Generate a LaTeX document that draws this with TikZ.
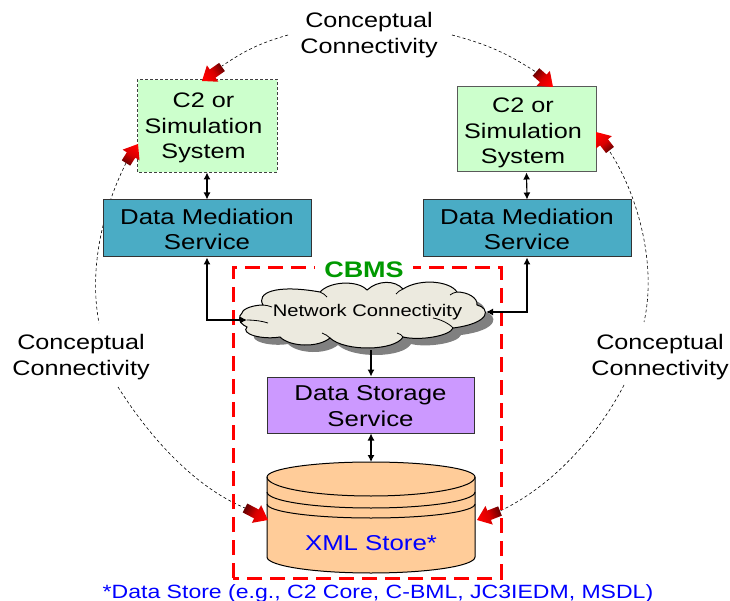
\documentclass[tikz,border=0pt]{standalone}
\usepackage{fontspec}
\setmainfont[FakeStretch=1.2]{Liberation Sans}
\usetikzlibrary{arrows.meta}
\definecolor{sysgreen}{HTML}{CCFFCC}
\definecolor{medblue}{HTML}{4AACC5}
\definecolor{storepurple}{HTML}{CC99FF}
\definecolor{xmlorange}{HTML}{FFCC99}
\definecolor{cloudfill}{HTML}{ECEADF}
\definecolor{cbmsgreen}{HTML}{009900}
\definecolor{deepred}{HTML}{660000}
\newcommand{\blockarrow}[4]{%
  \pgfmathsetmacro{\dxx}{#1-#3}\pgfmathsetmacro{\dyy}{#2-#4}%
  \pgfmathsetmacro{\lenn}{veclen(\dxx,\dyy)}%
  \pgfmathsetmacro{\ux}{\dxx/\lenn}\pgfmathsetmacro{\uy}{\dyy/\lenn}%
  \pgfmathsetmacro{\angg}{atan2(-\dyy,\dxx)-90}%
  \shade[top color=red,bottom color=deepred,middle color=red!85!black,shading angle=\angg]
    (#1,#2)
    -- ({#1-13*\ux-10*\uy},{#2-13*\uy+10*\ux})
    -- ({#1-13*\ux-5*\uy},{#2-13*\uy+5*\ux})
    -- ({#3-5*\uy},{#4+5*\ux})
    -- ({#3+5*\uy},{#4-5*\ux})
    -- ({#1-13*\ux+5*\uy},{#2-13*\uy-5*\ux})
    -- ({#1-13*\ux+10*\uy},{#2-13*\uy-10*\ux})
    -- cycle;}
\tikzset{
  lbl/.style={font=\fontsize{21}{25.5}\selectfont,align=center,inner sep=0pt},
  lblwide/.style={font=\fontsize{21.5}{25.5}\selectfont,align=center,inner sep=0pt},
  sysbox/.style={draw=black!65,line width=1pt,fill=sysgreen,inner sep=0pt},
  medbox/.style={draw=black!80,line width=1pt,fill=medblue},
  storebox/.style={draw=black!80,line width=1pt,fill=storepurple},
  concept/.style={lbl,inner sep=1pt},
  arc/.style={black,line width=0.6pt,dash pattern=on 3pt off 2.5pt},
  conn/.style={black,line width=1.1pt,-{Latex[length=7pt,width=7pt]}},
  biconn/.style={black,line width=1.1pt,{Latex[length=7pt,width=7pt]}-{Latex[length=7pt,width=7pt]}},
}
\begin{document}
\begin{tikzpicture}[x=1pt,y=-1pt]
\useasboundingbox (0,0) rectangle (730,601);
% conceptual arcs
\coordinate (tlA) at (288,35); \coordinate (tlB) at (222,66);
\coordinate (trA) at (452,35); \coordinate (trB) at (536,72);
\coordinate (ulA) at (126,163); \coordinate (ulB) at (99,323);
\coordinate (llA) at (118,387); \coordinate (llB) at (245,508);
\coordinate (urA) at (610,152); \coordinate (urB) at (644,322);
\coordinate (lrA) at (624,385); \coordinate (lrB) at (500,511);
\draw[arc] (tlA) to[bend right=9] (tlB);
\draw[arc] (trA) to[bend left=9] (trB);
\draw[arc] (ulA) .. controls (105,205) and (88,265) .. (ulB);
\draw[arc] (llA) .. controls (145,430) and (190,485) .. (llB);
\draw[arc] (urA) .. controls (638,195) and (657,265) .. (urB);
\draw[arc] (lrA) .. controls (600,432) and (555,485) .. (lrB);
% labels
\node[concept] (ctop) at (369,35) {Conceptual\\Connectivity};
\node[concept] (cleft) at (81,357) {Conceptual\\Connectivity};
\node[concept] (cright) at (660,357) {Conceptual\\Connectivity};
% CBMS frame
\draw[red,line width=3pt,dash pattern=on 15pt off 8pt] (233,578) -- (233,268) -- (501,268) -- (501,578) -- cycle;
\node[font=\fontsize{22.5}{25}\bfseries\selectfont,text=cbmsgreen,fill=white,inner xsep=9pt,inner ysep=0pt] (cbms) at (364,270) {CBMS};
% systems
\node[sysbox,draw=none,minimum width=139pt,minimum height=92pt] (sysL) at (207,126) {};
\draw[black!75,line width=1pt,dash pattern=on 3pt off 2pt] (sysL.north west) rectangle (sysL.south east);
\node[lbl] (sysLt) at (203.5,128) {C2 or\\Simulation\\System};
\node[sysbox,minimum width=139pt,minimum height=85pt] (sysR) at (526.5,129.5) {};
\node[lbl] (sysRt) at (523,133) {C2 or\\Simulation\\System};
% mediation
\node[medbox,minimum width=208pt,minimum height=57pt] (medL) at (207,228.5) {};
\node[lblwide] (medLt) at (207,229.5) {Data Mediation\\Service};
\node[medbox,minimum width=208pt,minimum height=57pt] (medR) at (527,228.5) {};
\node[lblwide] (medRt) at (527,229.5) {Data Mediation\\Service};
% cloud
\def\cloudpath{(242,313) .. controls (243,308) and (255,305) .. (263,305)
 .. controls (256,293) and (275,284) .. (320,292)
 .. controls (330,281) and (358,280) .. (367,290)
 .. controls (378,280) and (395,280) .. (403,289)
 .. controls (420,278) and (450,281) .. (457,292)
 .. controls (468,292) and (478,298) .. (477,305)
 .. controls (490,308) and (492,323) .. (453,328)
 .. controls (450,336) and (420,341) .. (403,337)
 .. controls (395,351) and (345,352) .. (330,338)
 .. controls (318,348) and (290,347) .. (280,337)
 .. controls (262,340) and (240,334) .. (247,327)
 .. controls (238,323) and (238,316) .. (242,313)}
\begin{scope}[shift={(8,7)}]
\fill[black!50] \cloudpath -- cycle;
\end{scope}
\draw[black,line width=1pt,fill=cloudfill] \cloudpath -- cycle;
\draw[black,line width=0.8pt] (263,305) .. controls (266,305) and (269,306) .. (272,307);
\draw[black,line width=0.8pt] (247,320) .. controls (254,320) and (262,321) .. (268,323);
\draw[black,line width=0.8pt] (320,292) .. controls (323,293) and (325,295) .. (327,297);
\draw[black,line width=0.8pt] (403,289) .. controls (400,290) and (398,292) .. (396,294);
\draw[black,line width=0.8pt] (457,292) .. controls (454,292) and (452,294) .. (450,295);
\draw[black,line width=0.8pt] (453,328) .. controls (450,324) and (440,319) .. (433,318);
\draw[black,line width=0.8pt] (330,338) .. controls (328,336) and (325,334) .. (322,333);
\draw[black,line width=0.8pt] (403,337) .. controls (402,335) and (400,334) .. (397,333);
\node[font=\fontsize{16.8}{20}\selectfont,inner sep=0pt] (cloud) at (367.5,312.5) {Network Connectivity};
\coordinate (cloudW) at (247,320); \coordinate (cloudE) at (486,312);
\coordinate (cloudS) at (371,350);
% storage
\node[storebox,minimum width=207pt,minimum height=56pt] (store) at (370.5,405) {};
\node[lblwide] (storet) at (370.5,406) {Data Storage\\Service};
% cylinder
\draw[black,line width=1pt,fill=xmlorange] (267,477) -- (267,557) arc[start angle=180,end angle=0,x radius=104,y radius=16] -- (475,477) arc[start angle=0,end angle=-180,x radius=104,y radius=15] -- cycle;
\draw[black,line width=1pt] (267,477) arc[start angle=180,end angle=0,x radius=104,y radius=19];
\draw[black,line width=1pt] (267,492) arc[start angle=180,end angle=0,x radius=104,y radius=16];
\draw[black,line width=1pt] (267,504) arc[start angle=180,end angle=0,x radius=104,y radius=14];
\node[lblwide,text=blue] (xml) at (371,543) {XML Store*};
\coordinate (cylN) at (371,462);
\node[font=\fontsize{19.2}{22}\selectfont,text=blue,inner sep=0pt] (foot) at (378,593.5) {*Data Store (e.g., C2 Core, C-BML, JC3IEDM, MSDL)};
% connectors
\draw[biconn] (sysL.south) -- (medL.north);
\draw[biconn] (sysR.south) -- (medR.north);
\draw[biconn] (medL.south) |- (cloudW);
\draw[biconn] (medR.south) |- (cloudE);
\draw[conn] (cloudS) -- (store.north -| cloudS);
\draw[biconn] (store.south -| cylN) -- (cylN);
% block arrows
\blockarrow{202}{81}{222}{67}
\blockarrow{138}{144}{126}{163}
\blockarrow{553}{87}{536}{72}
\blockarrow{596}{132}{610}{150}
\blockarrow{268}{520}{245}{508}
\blockarrow{477}{520}{500}{511}
\end{tikzpicture}
\end{document}
